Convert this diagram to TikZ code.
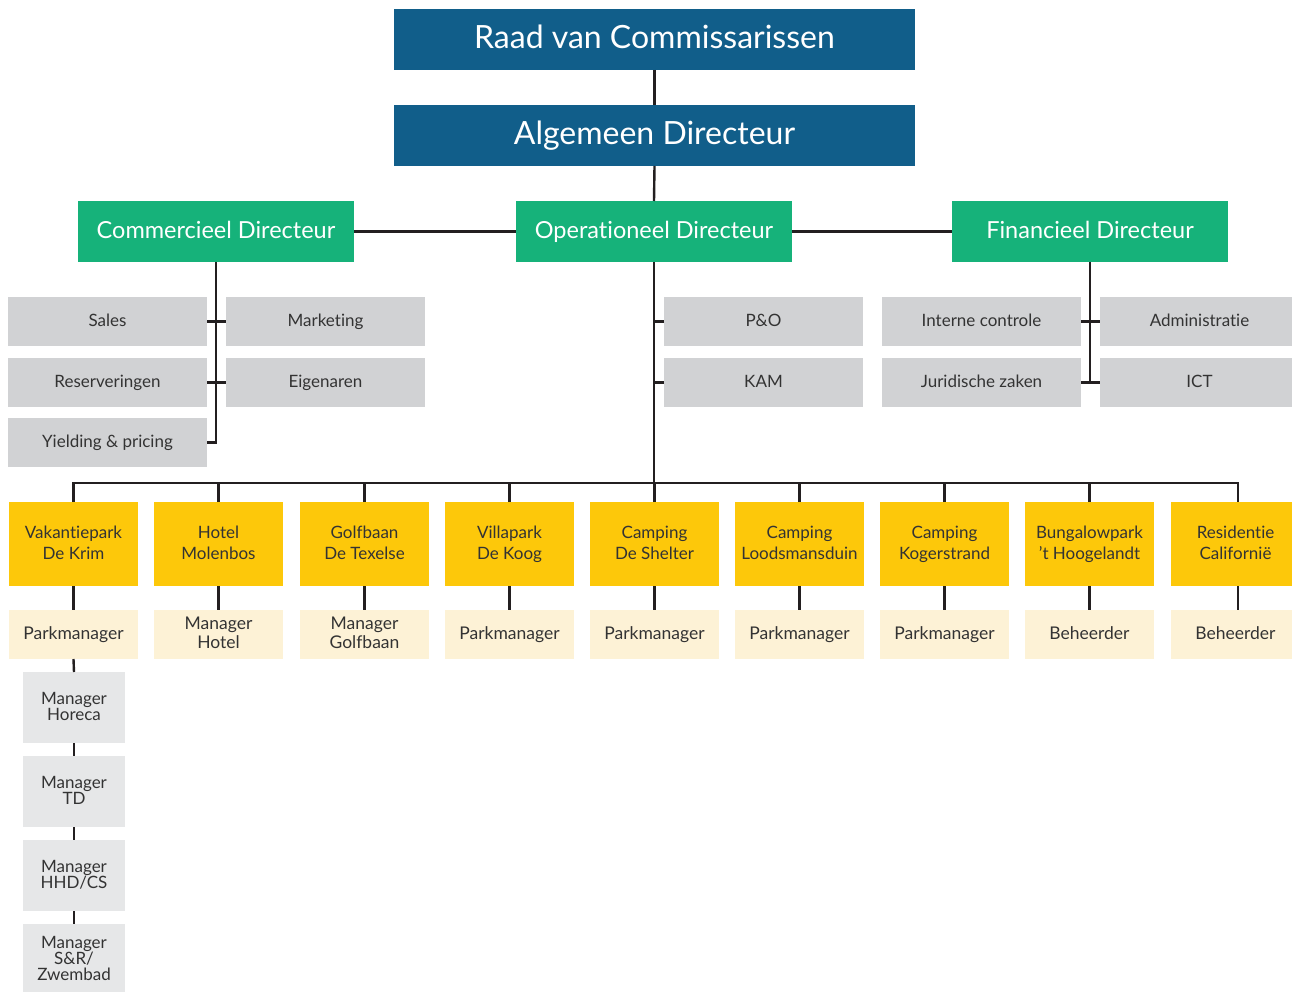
\documentclass[tikz,border=0pt]{standalone}
\usepackage{fontspec}
\setmainfont{Lato}[Ligatures=NoCommon]
\usetikzlibrary{calc}
\definecolor{boardblue}{RGB}{17,94,138}
\definecolor{dirgreen}{RGB}{22,178,122}
\definecolor{deptgrey}{RGB}{209,210,212}
\definecolor{unityellow}{RGB}{253,200,10}
\definecolor{mgryellow}{RGB}{253,242,214}
\definecolor{subgrey}{RGB}{230,231,232}
\definecolor{linedark}{RGB}{35,31,32}
\definecolor{textdark}{RGB}{51,51,51}
\begin{document}
\begin{tikzpicture}[x=1pt,y=-1pt,
  every node/.style={inner sep=0pt, outer sep=0pt, align=center,
    execute at begin node=\vphantom{Hg}, execute at end node=\vphantom{Hg}},
  board/.style={fill=boardblue, text=white, minimum width=521pt, minimum height=61pt,
    font=\fontsize{32}{36}\selectfont},
  director/.style={fill=dirgreen, text=white, minimum width=276pt, minimum height=61pt,
    font=\fontsize{23.5}{27}\selectfont},
  dept/.style={fill=deptgrey, text=textdark, minimum width=199pt, minimum height=49pt,
    font=\fontsize{17}{19}\selectfont},
  unit/.style={fill=unityellow, text=textdark, minimum width=129pt, minimum height=84pt,
    font=\fontsize{17}{21}\selectfont},
  mgr/.style={fill=mgryellow, text=textdark, minimum width=129pt, minimum height=49pt,
    font=\fontsize{17.5}{19}\selectfont},
  subbox/.style={fill=subgrey, text=textdark, minimum width=102pt, minimum height=71pt,
    font=\fontsize{17}{16}\selectfont},
  link/.style={draw=linedark, line width=2.4pt}
]
\useasboundingbox (0,0) rectangle (1292,992);
\clip (0,0) rectangle (1292,992);

% board and general director
\node[board] (rvc) at (654.5,39.5) {Raad van Commissarissen};
\node[board] (ad) at (654.5,135.5) {Algemeen Directeur};

% directors
\node[director] (cd) at (216,231.5) {Commercieel Directeur};
\node[director] (od) at (654,231.5) {Operationeel Directeur};
\node[director] (fd) at (1090,231.5) {Financieel Directeur};

% commercial departments
\node[dept] (sales) at (107.5,321.5) {Sales};
\node[dept] (mark) at (325.5,321.5) {Marketing};
\node[dept] (res) at (107.5,382.5) {Reserveringen};
\node[dept] (eig) at (325.5,382.5) {Eigenaren};
\node[dept] (yield) at (107.5,442.5) {Yielding \& pricing};

% operational departments
\node[dept] (po) at (763.5,321.5) {P\&O};
\node[dept] (kam) at (763.5,382.5) {KAM};

% financial departments
\node[dept] (ic) at (981.5,321.5) {Interne controle};
\node[dept] (adm) at (1199.5,321.5) {Administratie};
\node[dept] (jur) at (981.5,382.5) {Juridische zaken};
\node[dept] (ict) at (1199.5,382.5) {ICT};

% business units
\node[unit] (u1) at (73.5,544) {Vakantiepark\\De Krim};
\node[unit] (u2) at (218.5,544) {Hotel\\Molenbos};
\node[unit] (u3) at (364.5,544) {Golfbaan\\De Texelse};
\node[unit] (u4) at (509.5,544) {Villapark\\De Koog};
\node[unit] (u5) at (654.5,544) {Camping\\De Shelter};
\node[unit] (u6) at (799.5,544) {Camping\\Loodsmansduin};
\node[unit] (u7) at (944.5,544) {Camping\\Kogerstrand};
\node[unit] (u8) at (1089.5,544) {Bungalowpark\\'t Hoogelandt};
\node[unit] (u9) at (1235.5,544) {Residentie\\Californië};

% unit managers
\node[mgr] (m1) at (73.5,634.5) {Parkmanager};
\node[mgr] (m2) at (218.5,634.5) {Manager\\Hotel};
\node[mgr] (m3) at (364.5,634.5) {Manager\\Golfbaan};
\node[mgr] (m4) at (509.5,634.5) {Parkmanager};
\node[mgr] (m5) at (654.5,634.5) {Parkmanager};
\node[mgr] (m6) at (799.5,634.5) {Parkmanager};
\node[mgr] (m7) at (944.5,634.5) {Parkmanager};
\node[mgr] (m8) at (1089.5,634.5) {Beheerder};
\node[mgr] (m9) at (1235.5,634.5) {Beheerder};

% managers under the holiday park
\node[subbox] (s1) at (74,707.5) {Manager\\Horeca};
\node[subbox] (s2) at (74,791.5) {Manager\\TD};
\node[subbox] (s3) at (74,875.5) {Manager\\HHD/CS};
\node[subbox] (s4) at (74,959.5) {Manager\\S\&R/\\Zwembad};

% connectors
\coordinate (bus) at (654,483);
\draw[link] (rvc.south) -- (ad.north);
\draw[link] (ad.south) -- (od.north);
\draw[link] (cd.east) -- (od.west);
\draw[link] (od.east) -- (fd.west);

\draw[link] (cd.south) |- (yield.east);
\draw[link] (sales.east) -- (mark.west);
\draw[link] (res.east) -- (eig.west);

\draw[link] (od.south) -- (bus);
\draw[link] (po.west) -- (po.west -| od.south);
\draw[link] (kam.west) -- (kam.west -| od.south);

\draw[link] (fd.south) -- (fd.south |- jur.east);
\draw[link] (ic.east) -- (adm.west);
\draw[link] (jur.east) -- (ict.west);

\draw[link] (u1.north) |- (bus) -| ([xshift=2.5pt]u9.north);
\foreach \i in {2,...,8} {
  \draw[link] (u\i.north) -- (u\i.north |- bus);
}
\foreach \i in {1,...,8} {
  \draw[link] (u\i.south) -- (m\i.north);
}
\draw[link] ([xshift=2.5pt]u9.south) -- ([xshift=2.5pt]m9.north);
\draw[link] (m1.south) -- (s1.north);
\draw[link] (s1.south) -- (s2.north);
\draw[link] (s2.south) -- (s3.north);
\draw[link] (s3.south) -- (s4.north);
\end{tikzpicture}
\end{document}
